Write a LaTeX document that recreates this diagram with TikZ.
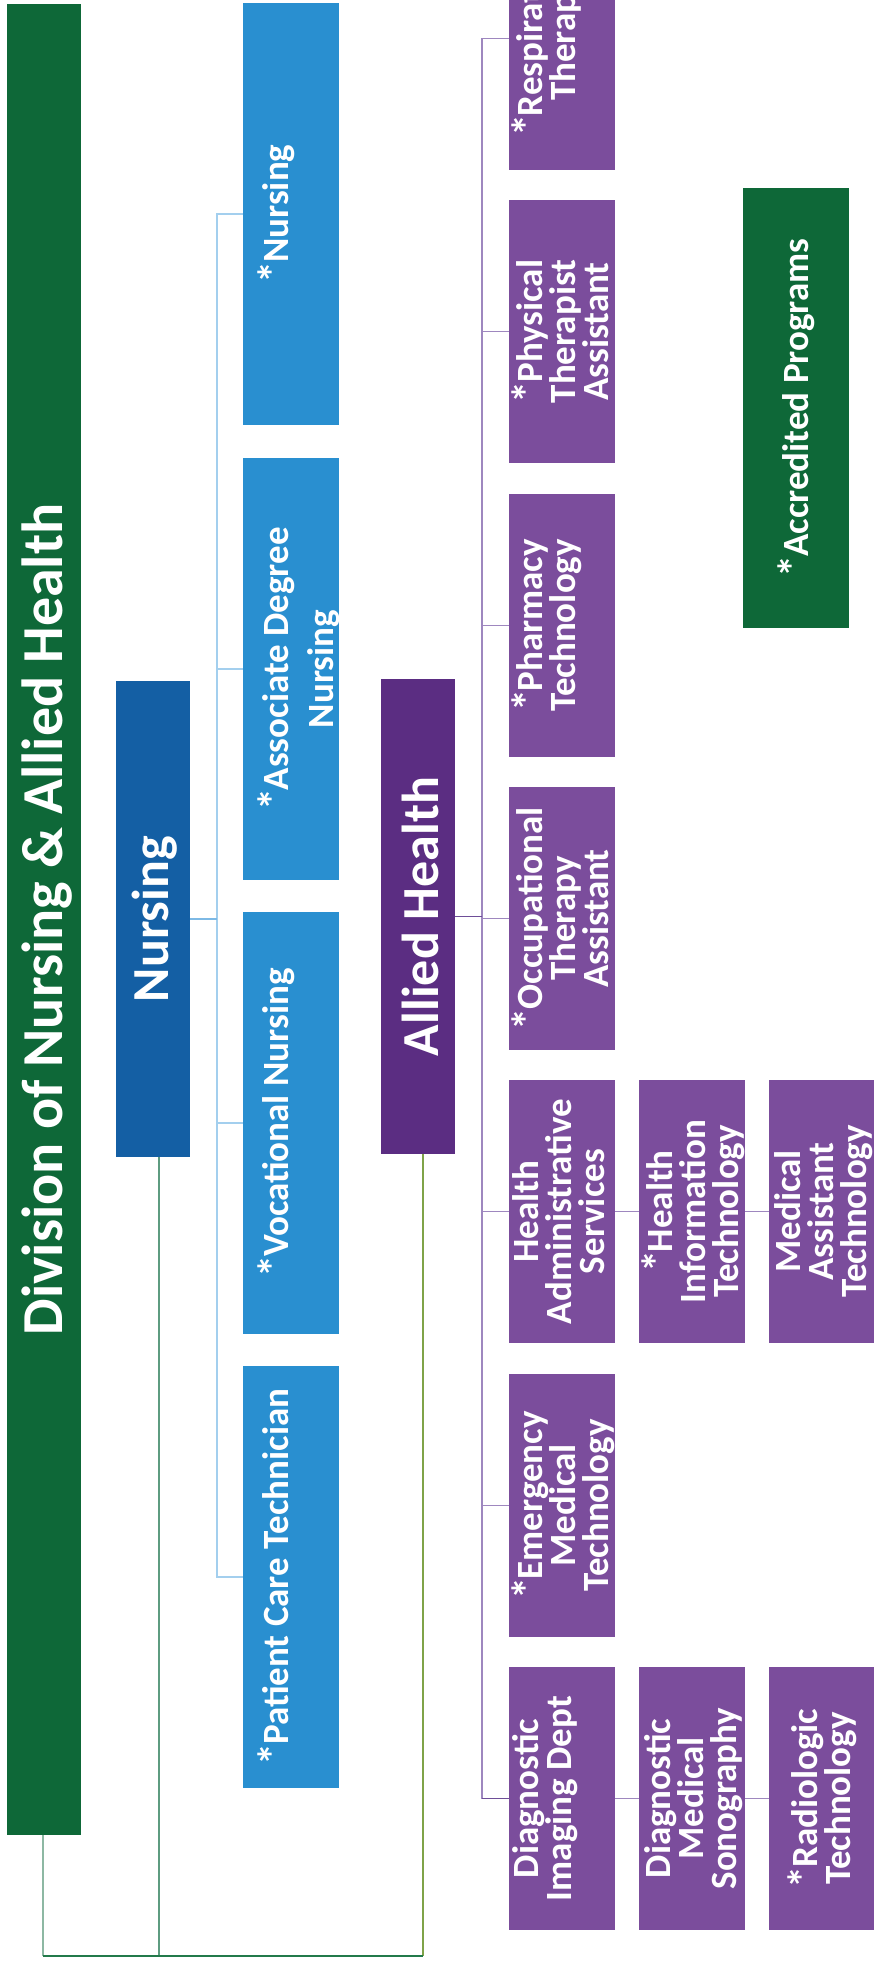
\documentclass[tikz,border=0pt]{standalone}
\usepackage{fontspec}
\setmainfont{Carlito}
\definecolor{divgreen}{HTML}{0E6838}
\definecolor{nursblue}{HTML}{145FA4}
\definecolor{childblue}{HTML}{298FD0}
\definecolor{allpurple}{HTML}{5B2D82}
\definecolor{childpurple}{HTML}{7B4D9C}
\definecolor{blineA}{HTML}{A3CFEE}
\definecolor{blineB}{HTML}{7DB9E5}
\definecolor{plineA}{HTML}{9E87BF}
\definecolor{plineB}{HTML}{6E4E98}
\definecolor{rootA}{HTML}{8DB8A3}
\definecolor{rootB}{HTML}{5E9C80}
\definecolor{rootC}{HTML}{237A4B}
\definecolor{rootD}{HTML}{7FA348}
\newcommand{\stx}{\raisebox{-1.5pt}{\scalebox{1.2}{*}}\kern-1.5pt}
\begin{document}
\begin{tikzpicture}[x=1pt,y=-1pt,
  box/.style={rectangle, inner sep=0pt, outer sep=0pt, anchor=north west, draw=none},
  pkid/.style={box, minimum width=106pt, minimum height=263pt, fill=childpurple},
  bkid/.style={box, minimum width=96pt, minimum height=422pt, fill=childblue},
  lbl/.style={rotate=90, text=white, inner sep=0pt, align=center, font=\bfseries\fontsize{37}{33}\selectfont},
  blbl/.style={lbl, font=\bfseries\fontsize{37}{45}\selectfont},
  hlbl/.style={lbl, font=\bfseries\fontsize{52}{56}\selectfont},
  bl/.style={draw=blineA, line width=1.5pt},
  bl2/.style={draw=blineB, line width=1.5pt},
  pl/.style={draw=plineA, line width=1.5pt},
  pl2/.style={draw=plineB, line width=1.5pt},
]
\useasboundingbox (0,0) rectangle (874,1965);
\clip (0,0) rectangle (874,1965);

% root
\node[box, fill=divgreen, minimum width=74pt, minimum height=1831pt] (div) at (7,4) {};
\node[lbl, font=\bfseries\fontsize{58}{60}\selectfont] (divt) at ([xshift=3pt]div.center) {Division of Nursing \& Allied Health};

% level 1
\node[box, fill=nursblue, minimum width=74pt, minimum height=476pt] (nurs) at (116,681) {};
\node[hlbl] (nurst) at ([xshift=2pt]nurs.center) {Nursing};
\node[box, fill=allpurple, minimum width=74pt, minimum height=475pt] (allied) at (381,679) {};
\node[hlbl] (alliedt) at ([xshift=2pt]allied.center) {Allied Health};

% nursing programs
\node[bkid] (b1) at (243,3) {};
\node[bkid] (b2) at (243,458) {};
\node[bkid] (b3) at (243,912) {};
\node[bkid] (b4) at (243,1366) {};
\node[blbl, anchor=north] (b1t) at ([xshift=15pt]b1.west) {\stx Nursing};
\node[blbl, anchor=north] (b2t) at ([xshift=15pt]b2.west) {\stx Associate Degree\\Nursing};
\node[blbl, anchor=north] (b3t) at ([xshift=15pt]b3.west) {\stx Vocational Nursing};
\node[blbl, anchor=north] (b4t) at ([xshift=15pt]b4.west) {\stx Patient Care Technician};

% allied programs
\node[pkid] (p1) at (509,-93) {};
\node[pkid] (p2) at (509,200) {};
\node[pkid] (p3) at (509,494) {};
\node[pkid] (p4) at (509,787) {};
\node[pkid] (p5) at (509,1080) {};
\node[pkid] (p6) at (509,1374) {};
\node[pkid] (p7) at (509,1667) {};
\node[pkid] (hit) at (639,1080) {};
\node[pkid] (mat) at (769,1080) {};
\node[pkid] (dms) at (639,1667) {};
\node[pkid] (rt) at (769,1667) {};

\node[lbl, anchor=north] (p1t) at ([xshift=3pt]p1.west) {\stx Respiratory\\Therapy};
\node[lbl, anchor=north] (p2t) at ([xshift=3pt]p2.west) {\stx Physical\\Therapist\\Assistant};
\node[lbl, anchor=north] (p3t) at ([xshift=3pt]p3.west) {\stx Pharmacy\\Technology};
\node[lbl, anchor=north] (p4t) at ([xshift=3pt]p4.west) {\stx Occupational\\Therapy\\Assistant};
\node[lbl, anchor=north] (p5t) at ([xshift=3pt]p5.west) {Health\\Administrative\\Services};
\node[lbl, anchor=north] (p6t) at ([xshift=3pt]p6.west) {\stx Emergency\\Medical\\Technology};
\node[lbl, anchor=north] (p7t) at ([xshift=3pt]p7.west) {Diagnostic\\Imaging Dept};
\node[lbl, anchor=north] (hitt) at ([xshift=3pt]hit.west) {\stx Health\\Information\\Technology};
\node[lbl, anchor=north] (matt) at ([xshift=5pt]mat.west) {Medical\\Assistant\\Technology};
\node[lbl, anchor=north] (dmst) at ([xshift=5pt]dms.west) {Diagnostic\\Medical\\Sonography};
\node[lbl] (rtt) at (rt.center) {\stx Radiologic\\Technology};

% legend
\node[box, fill=divgreen, minimum width=106pt, minimum height=440pt] (acc) at (743,188) {};
\node[lbl] (acct) at (acc.center) {\stx Accredited Programs};

% nursing connectors
\coordinate (bt) at (217,0);
\draw[bl] (b1.west) -- (bt |- b1.west) -- (bt |- b4.west) -- (b4.west);
\draw[bl] (b2.west) -- (bt |- b2.west);
\draw[bl] (b3.west) -- (bt |- b3.west);
\draw[bl2] (nurs.east) -- (bt |- nurs.east);

% allied connectors
\coordinate (ptr) at (482,0);
\draw[pl] (p1.west) -- (ptr |- p1.west) -- (ptr |- p7.west);
\draw[pl2] (ptr |- p7.west) -- (p7.west);
\foreach \n in {p2,p3,p4,p5,p6} { \draw[pl] (\n.west) -- (ptr |- \n.west); }
\draw[pl2] (allied.east) -- (ptr |- allied.east);
\draw[pl] (p5.east) -- (hit.west);
\draw[pl] (hit.east) -- (mat.west);
\draw[pl] (p7.east) -- (dms.west);
\draw[pl] (dms.east) -- (rt.west);

% root connectors
\coordinate (jr) at (43,1956);
\coordinate (jn) at (159,1956);
\coordinate (ja) at (423,1956);
\draw[draw=rootA, line width=1.8pt] ([xshift=-1pt]div.south) -- (jr);
\draw[draw=rootB, line width=1.5pt] ([xshift=6pt]nurs.south) -- (jn);
\draw[draw=rootD, line width=2.3pt] ([xshift=5pt]allied.south) -- (ja);
\draw[draw=rootC, line width=1.4pt] (jr) -- (ja);
\end{tikzpicture}
\end{document}
